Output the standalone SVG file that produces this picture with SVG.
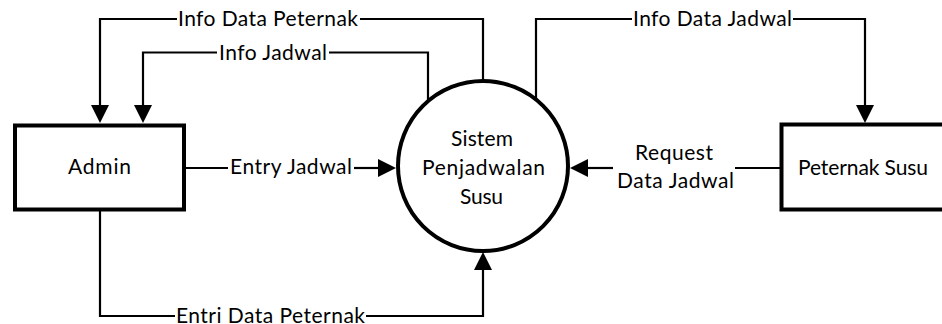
<svg xmlns="http://www.w3.org/2000/svg" width="942" height="324" viewBox="0 0 942 324">
<defs>
<marker id="arr" markerUnits="userSpaceOnUse" markerWidth="18" markerHeight="18" refX="0" refY="9" orient="auto" overflow="visible">
<path d="M0,0 L18,9 L0,18 Z" fill="#000"/>
</marker>
<style>
.node{fill:#fff;stroke:#000;stroke-width:4}
.conn{fill:none;stroke:#000;stroke-width:2.2}
.arrow{marker-end:url(#arr)}
text{font-family:Lato,"Open Sans","Liberation Sans",sans-serif;font-size:21px;fill:#000}
</style>
</defs>
<rect width="942" height="324" fill="#fff"/>
<g id="connectors">
<path class="conn" d="M483,81 V19 H360"/>
<path class="conn arrow" d="M177,19 H100 V105"/>
<path class="conn" d="M428,101 V52.5 H329"/>
<path class="conn arrow" d="M217,52.5 H143 V105"/>
<path class="conn" d="M536,100 V19 H632"/>
<path class="conn arrow" d="M793,19 H865 V105"/>
<path class="conn" d="M184,168 H228"/>
<path class="conn arrow" d="M354,168 H378"/>
<path class="conn" d="M781,168 H735"/>
<path class="conn arrow" d="M613,168 H588"/>
<path class="conn" d="M100,211 V316 H175"/>
<path class="conn arrow" d="M366,316 H483 V270"/>
<text x="178" y="26" textLength="180" lengthAdjust="spacing">Info Data Peternak</text>
<text x="219" y="60" textLength="108" lengthAdjust="spacing">Info Jadwal</text>
<text x="633" y="26" textLength="159" lengthAdjust="spacing">Info Data Jadwal</text>
<text x="230" y="174" textLength="122" lengthAdjust="spacing">Entry Jadwal</text>
<text x="635" y="160" textLength="78" lengthAdjust="spacing">Request</text>
<text x="617" y="188" textLength="117" lengthAdjust="spacing">Data Jadwal</text>
<text x="176" y="322.5" textLength="189" lengthAdjust="spacing">Entri Data Peternak</text>
</g>
<g id="admin">
<rect class="node" x="15" y="125.5" width="169" height="84"/>
<text x="68" y="174" textLength="63" lengthAdjust="spacing">Admin</text>
</g>
<g id="sistem">
<circle class="node" cx="483" cy="166" r="85"/>
<text x="451" y="146" textLength="62" lengthAdjust="spacing">Sistem</text>
<text x="422" y="175" textLength="123" lengthAdjust="spacing">Penjadwalan</text>
<text x="460" y="204" textLength="43" lengthAdjust="spacing">Susu</text>
</g>
<g id="peternak">
<rect class="node" x="781.5" y="124.5" width="169" height="85"/>
<text x="798" y="175" textLength="130" lengthAdjust="spacing">Peternak Susu</text>
</g>
</svg>
